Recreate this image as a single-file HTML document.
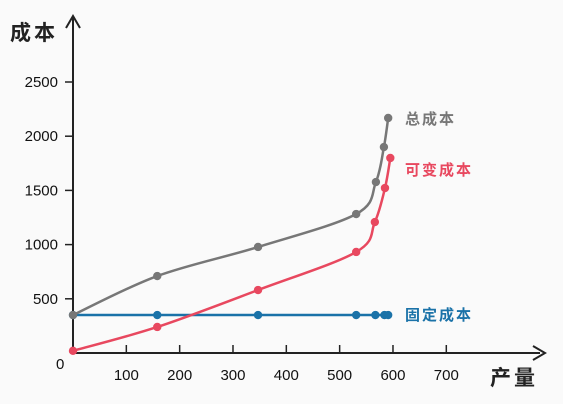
<!DOCTYPE html>
<html><head><meta charset="utf-8"><style>
html,body{margin:0;padding:0;background:#fafafa;}
svg{display:block;font-family:"Liberation Sans","Noto Sans CJK SC",sans-serif;}
</style></head><body>
<svg id="chart" width="563" height="404" viewBox="0 0 563 404">
<rect width="563" height="404" fill="#fafafa"/>
<g id="axes"></g><g id="series"></g>
</svg>
<script>
const xTicks=[100,200,300,400,500,600,700];
const yTicks=[500,1000,1500,2000,2500];
const totalX=[0,158,347,531,568,583,591];
const totalY=[350,710,978,1282,1577,1900,2168];
const varX=[0,158,347,531,566,585,595];
const varY=[20,240,581,932,1208,1522,1799];
const fixedX=[0,158,347,531,567,584,591];
const fixedY=[350,350,350,350,350,350,350];
const X0=73,Y0=353,SX=0.5333,SY=0.1084;
const sx=v=>X0+v*SX, sy=v=>Y0-v*SY;
const NS="http://www.w3.org/2000/svg";
function mk(t,a,p){const e=document.createElementNS(NS,t);for(const k in a)e.setAttribute(k,a[k]);p.appendChild(e);return e;}
const ax=document.getElementById('axes'), se=document.getElementById('series');
let e;
e=mk('line',{x1:X0,y1:Y0,x2:540,y2:Y0,stroke:'#222','stroke-width':2},ax);


e=mk('path',{d:'M533 346 L545 353 L533 360',fill:'none',stroke:'#222','stroke-width':2},ax);


e=mk('line',{x1:X0,y1:Y0,x2:X0,y2:18,stroke:'#222','stroke-width':2},ax);


e=mk('path',{d:'M66 28 L73 16 L80 28',fill:'none',stroke:'#222','stroke-width':2},ax);


xTicks.forEach(v=>{
 e=mk('line',{x1:sx(v),y1:Y0,x2:sx(v),y2:Y0-8,stroke:'#222','stroke-width':1.5},ax);
 
 
 e=mk('text',{x:sx(v),y:380,'text-anchor':'middle','font-size':15,fill:'#111'},ax);e.textContent=v;
 
 
});
yTicks.forEach(v=>{
 e=mk('line',{x1:X0-8,y1:sy(v),x2:X0,y2:sy(v),stroke:'#222','stroke-width':1.5},ax);
 
 
 e=mk('text',{x:58,y:sy(v)+5,'text-anchor':'end','font-size':15,fill:'#111'},ax);e.textContent=v;
 
 
});
e=mk('text',{x:56,y:369,'text-anchor':'start','font-size':15,fill:'#111'},ax);e.textContent='0';


e=mk('text',{x:10,y:40,'font-size':21,'font-weight':'bold',fill:'#222','letter-spacing':3},ax);e.textContent='成本';


e=mk('text',{x:490,y:385,'font-size':21,'font-weight':'bold',fill:'#222','letter-spacing':3},ax);e.textContent='产量';


function smooth(pts){let d='M'+pts[0][0]+' '+pts[0][1];
 for(let i=0;i<pts.length-1;i++){const p0=pts[i-1]||pts[i],p1=pts[i],p2=pts[i+1],p3=pts[i+2]||p2;
  const c1=[p1[0]+(p2[0]-p0[0])/6,p1[1]+(p2[1]-p0[1])/6],c2=[p2[0]-(p3[0]-p1[0])/6,p2[1]-(p3[1]-p1[1])/6];
  d+=` C${c1[0]} ${c1[1]} ${c2[0]} ${c2[1]} ${p2[0]} ${p2[1]}`;}return d;}
function series(xs,ys,col,name,label,ly){
 const pts=xs.map((x,i)=>[sx(x),sy(ys[i])]);
 const g=mk('g',{},se);
 
 
 const p=mk('path',{d:smooth(pts),fill:'none',stroke:col,'stroke-width':2.5},g);
 
 
 pts.forEach(q=>{const c=mk('circle',{cx:q[0],cy:q[1],r:4.2,fill:col},g);
  
  });
 const t=mk('text',{x:405,y:ly,'font-size':15,'font-weight':'bold',fill:col,'letter-spacing':2},g);t.textContent=label;
 
 
}
series(fixedX,fixedY,'#1a72a8','fixed-cost','固定成本',320);
series(varX,varY,'#e8485f','variable-cost','可变成本',175);
series(totalX,totalY,'#777777','total-cost','总成本',124);
</script>
</body></html>
